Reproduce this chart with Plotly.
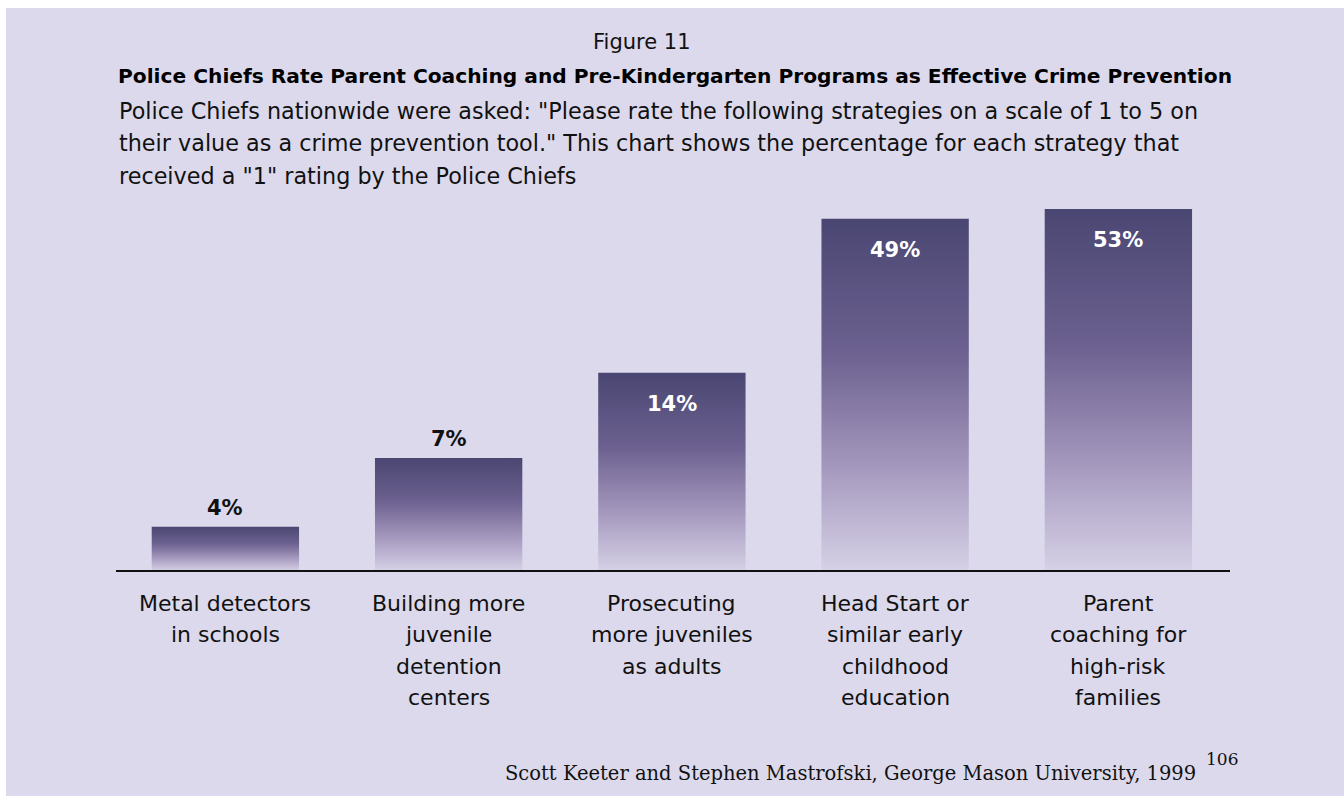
import math
import plotly.graph_objects as go

# Survey data
categories = [
    "Metal detectors<br>in schools",
    "Building more<br>juvenile<br>detention<br>centers",
    "Prosecuting<br>more juveniles<br>as adults",
    "Head Start or<br>similar early<br>childhood<br>education",
    "Parent<br>coaching for<br>high-risk<br>families",
]
percent_values = [4, 7, 14, 49, 53]
value_labels = ["4%", "7%", "14%", "49%", "53%"]

figure_number = "Figure 11"
title_text = "Police Chiefs Rate Parent Coaching and Pre-Kindergarten Programs as Effective Crime Prevention"
subtitle_lines = [
    'Police Chiefs nationwide were asked: "Please rate the following strategies on a scale of 1 to 5 on',
    'their value as a crime prevention tool." This chart shows the percentage for each strategy that',
    'received a "1" rating by the Police Chiefs',
]
source_text = "Scott Keeter and Stephen Mastrofski, George Mason University, 1999"
page_number = "106"

# Styling
BG = "#dcd9ec"
BAR_SCALE = [[0.0, "#d6d1e6"], [0.3, "#a497bd"], [0.62, "#6c6190"], [1.0, "#4a4672"]]
BAR_WIDTH = 0.66
Y_LOG_RANGE = [0.4455, 1.859]
BASE = 10 ** Y_LOG_RANGE[0]
SANS = "'DejaVu Sans', Verdana, sans-serif"
SERIF = "'DejaVu Serif', 'Liberation Serif', serif"

fig = go.Figure()

for i, v in enumerate(percent_values):
    x0, x1 = i - BAR_WIDTH / 2, i + BAR_WIDTH / 2
    fig.add_trace(go.Scatter(
        x=[x0, x1, x1, x0, x0],
        y=[BASE, BASE, v, v, BASE],
        mode="lines",
        line=dict(width=0),
        fill="toself",
        fillgradient=dict(type="vertical", colorscale=BAR_SCALE),
        hoverinfo="skip",
        showlegend=False,
    ))

annotations = []
# Value labels: short bars get the label above, tall bars inside near the top
for i, (v, lab) in enumerate(zip(percent_values, value_labels)):
    inside = v >= 10
    annotations.append(dict(
        x=i, y=math.log10(v), xref="x", yref="y",
        text=f"<b>{lab}</b>", showarrow=False,
        xanchor="center", yanchor="top" if inside else "bottom",
        yshift=-17 if inside else 5,
        font=dict(family=SANS, size=21, color="white" if inside else "#111111"),
    ))

# Category labels beneath the baseline
for i, cat in enumerate(categories):
    for j, line in enumerate(cat.split("<br>")):
        annotations.append(dict(
            x=i, y=0, xref="x", yref="paper",
            text=line, showarrow=False,
            xanchor="center", yanchor="middle", yshift=-32 - 31.5 * j,
            font=dict(family=SANS, size=22, color="#111111"),
        ))

# Headings and source (positions given in pixels from the top-left)
header = [
    dict(x=642, y=42, text=figure_number, xanchor="center",
         font=dict(family=SANS, size=21, color="#111111")),
    dict(x=675, y=76, text=f"<b>{title_text}</b>", xanchor="center",
         font=dict(family=SANS, size=20.2, color="#000000")),
]
for j, line in enumerate(subtitle_lines):
    header.append(dict(x=117, y=111 + 32.5 * j, text=line, xanchor="left",
                       font=dict(family=SANS, size=22.3, color="#111111")))
header.append(dict(x=1198, y=773, text=source_text, xanchor="right",
                   font=dict(family=SERIF, size=19.5, color="#111111")))
header.append(dict(x=1204, y=759, text=page_number, xanchor="left",
                   font=dict(family=SERIF, size=17, color="#111111")))

W, H = 1344, 796
ML, MR, MT, MB = 116, 114, 171, 225
pw, ph = W - ML - MR, H - MT - MB
for a in header:
    a.update(xref="paper", yref="paper", showarrow=False, yanchor="middle",
             x=(a["x"] - ML) / pw, y=(H - a["y"] - MB) / ph)
    annotations.append(a)

fig.update_layout(
    width=W, height=H,
    margin=dict(l=ML, r=MR, t=MT, b=MB, pad=0),
    paper_bgcolor=BG, plot_bgcolor=BG,
    xaxis=dict(range=[-0.49, 4.5], showgrid=False, zeroline=False,
               showticklabels=False, ticks="", showline=False, fixedrange=True),
    yaxis=dict(type="log", range=Y_LOG_RANGE, showgrid=False, zeroline=False,
               showticklabels=False, ticks="", showline=False, fixedrange=True),
    annotations=annotations,
    shapes=[
        dict(type="line", xref="paper", yref="paper", x0=0, x1=1, y0=0, y1=0,
             line=dict(color="#111111", width=2)),
        dict(type="rect", xref="paper", yref="paper", layer="above",
             x0=-ML / pw, x1=(6 - ML) / pw, y0=-MB / ph, y1=(H - MB) / ph,
             fillcolor="white", line=dict(width=0)),
        dict(type="rect", xref="paper", yref="paper", layer="above",
             x0=-ML / pw, x1=(W - ML) / pw, y0=(H - 8 - MB) / ph, y1=(H - MB) / ph,
             fillcolor="white", line=dict(width=0)),
    ],
    showlegend=False,
)

fig.write_html(
    "out.html",
    config={"displayModeBar": False},
    post_script="document.body.style.margin='0';document.body.style.overflow='hidden';",
)
